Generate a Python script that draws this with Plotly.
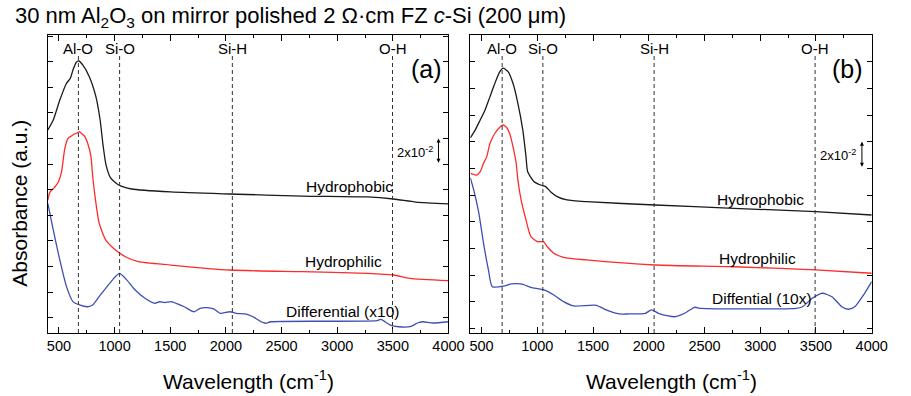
import plotly.graph_objects as go

# ---------------- data (absorbance x100, offset stacked) ----------------
# Panel (a)
a_hphob_w = [400, 449, 508, 568, 603, 626, 656, 679, 714, 773, 832, 870, 896, 923, 964, 1037, 1152, 1505, 2034, 2686, 3268, 3506, 3709, 4000]
a_hphob_v = [14.67, 15.45, 17.01, 18.32, 18.71, 19.36, 19.96, 20.06, 19.75, 18.83, 17.27, 15.45, 13.5, 11.94, 10.92, 10.37, 10.06, 9.83, 9.67, 9.51, 9.44, 9.28, 9.04, 8.89]

a_hphil_w = [400, 420, 464, 495, 523, 553, 582, 612, 641, 670, 685, 700, 729, 758, 788, 802, 832, 861, 920, 1008, 1097, 1214, 1505, 2034, 2686, 3268, 3506, 3653, 4000]
a_hphil_v = [9.20, 9.83, 10.22, 10.61, 11.39, 13.24, 14.02, 14.20, 14.36, 14.46, 14.54, 14.41, 14.20, 13.63, 12.58, 11.15, 8.97, 7.40, 6.08, 5.29, 4.77, 4.38, 4.12, 3.73, 3.60, 3.47, 3.34, 3.08, 2.90]

a_diff_w = [400, 449, 508, 568, 626, 685, 758, 802, 861, 920, 993, 1044, 1097, 1185, 1273, 1361, 1405, 1449, 1507, 1566, 1626, 1714, 1769, 1831, 1890, 1948, 2036, 2095, 2184, 2243, 2316, 2360, 2404, 3359, 3392, 3477, 3550, 3653, 3727, 3771, 3859, 4000]
a_diff_v = [8.94, 6.86, 4.51, 2.43, 1.26, 1.00, 0.86, 1.00, 1.65, 2.30, 3.08, 3.47, 3.08, 2.17, 1.52, 1.13, 1.25, 1.18, 1.26, 1.08, 0.86, 0.47, 0.74, 0.79, 0.69, 0.35, 0.47, 0.35, 0.29, 0.08, -0.31, -0.43, -0.31, -0.23, -0.12, -0.57, -0.70, -0.70, -0.39, -0.31, -0.41, -0.31]

# Panel (b)
b_hphob_w = [400, 444, 488, 532, 576, 620, 664, 694, 738, 782, 826, 870, 899, 914, 972, 1031, 1075, 1119, 1178, 1266, 1442, 2058, 2762, 3496, 4000]
b_hphob_v = [14.28, 14.88, 15.63, 16.38, 17.38, 18.38, 19.25, 19.51, 19.25, 18.38, 16.88, 14.88, 12.88, 11.75, 11.0, 10.75, 10.63, 10.25, 9.88, 9.63, 9.50, 9.25, 9.0, 8.75, 8.50]

b_hphil_w = [400, 459, 488, 518, 547, 576, 620, 664, 694, 723, 752, 782, 811, 826, 855, 899, 943, 1002, 1055, 1090, 1148, 1236, 1442, 2058, 2762, 3496, 4000]
b_hphil_v = [11.63, 11.50, 11.75, 12.38, 12.88, 13.88, 14.63, 15.08, 15.25, 15.08, 14.63, 13.63, 12.38, 11.13, 9.63, 8.13, 6.87, 6.50, 6.50, 6.12, 5.63, 5.33, 5.13, 4.75, 4.62, 4.38, 4.13]

b_diff_w = [400, 430, 474, 518, 562, 597, 708, 767, 855, 943, 1060, 1148, 1236, 1324, 1530, 1618, 1735, 1823, 1970, 2023, 2087, 2175, 2234, 2322, 2410, 2468, 3320, 3379, 3467, 3555, 3643, 3731, 3789, 3848, 3936, 4000]
b_diff_v = [11.28, 10.38, 8.73, 6.38, 4.38, 3.12, 3.18, 3.33, 3.33, 3.08, 2.88, 2.50, 2.00, 1.68, 1.73, 1.38, 1.08, 1.08, 1.13, 1.38, 1.13, 0.93, 0.87, 1.13, 1.58, 1.50, 1.50, 1.62, 2.25, 2.63, 2.37, 1.62, 1.43, 1.62, 2.63, 3.50]

band_names = ["Al-O", "Si-O", "Si-H", "O-H"]
a_bands = [675, 1045, 2058, 3497]
b_bands = [685, 1050, 2048, 3492]

x_ticks = [500, 1000, 1500, 2000, 2500, 3000, 3500, 4000]

# ---------------- figure ----------------
W, H = 911, 396
FONT = "Arial, Liberation Sans, sans-serif"
BLACK = "#1a1a1a"
RED = "#ff2a2a"
BLUE = "#3d4fb5"

fig = go.Figure()
for xa, ya, data in [("x", "y", [(a_hphob_w, a_hphob_v, BLACK), (a_hphil_w, a_hphil_v, RED), (a_diff_w, a_diff_v, BLUE)]),
                     ("x2", "y2", [(b_hphob_w, b_hphob_v, BLACK), (b_hphil_w, b_hphil_v, RED), (b_diff_w, b_diff_v, BLUE)])]:
    for wx, vy, col in data:
        fig.add_trace(go.Scatter(x=wx, y=vy, mode="lines", line=dict(color=col, width=1.3, shape="spline", smoothing=0.6),
                                 xaxis=xa, yaxis=ya, showlegend=False, hoverinfo="skip"))

def px_x(p):
    return p / W

def px_y(p):
    return 1 - p / H

xcommon = dict(range=[400, 4000], tickvals=x_ticks, ticks="inside", ticklen=6, tickcolor="black",
               showline=True, linecolor="black", linewidth=1, mirror="allticks", showgrid=False, zeroline=False,
               tickfont=dict(family=FONT, size=14.5, color="black"),
               minor=dict(dtick=250, tick0=0, ticks="inside", ticklen=3, tickcolor="black", showgrid=False))
ycommon = dict(dtick=2, tick0=0, ticks="inside", ticklen=5, tickcolor="black", showticklabels=False,
               showline=True, linecolor="black", linewidth=1, mirror="allticks", showgrid=False, zeroline=False)

ydom = [px_y(333), px_y(35)]
fig.update_layout(
    width=W, height=H, margin=dict(l=0, r=0, t=0, b=0),
    paper_bgcolor="white", plot_bgcolor="white",
    xaxis=dict(domain=[px_x(47.7), px_x(456)], **xcommon),
    xaxis2=dict(domain=[px_x(478.3), px_x(887.3)], anchor="y2", **xcommon),
    yaxis=dict(domain=ydom, range=[-1.19, 22.09], anchor="x", **ycommon),
    yaxis2=dict(domain=ydom, range=[-0.35, 22.0], anchor="x2", **ycommon),
)

shapes = []
annos = []
for xr, yr, bands in [("x", "y", a_bands), ("x2", "y2", b_bands)]:
    for name, b in zip(band_names, bands):
        shapes.append(dict(type="line", xref=xr, yref=yr + " domain", x0=b, x1=b, y0=0, y1=0.933,
                           line=dict(color="#333333", width=1, dash="4px,3px")))
        annos.append(dict(xref=xr, yref=yr + " domain", x=b, y=0.956, text=name, showarrow=False,
                          font=dict(family=FONT, size=15, color="black"), xanchor="center", yanchor="middle"))

# panel letters
annos.append(dict(xref="x", yref="y domain", x=3800, y=0.94, text="(a)", showarrow=False,
                  font=dict(family=FONT, size=25, color="black")))
annos.append(dict(xref="x2", yref="y2 domain", x=3786, y=0.94, text="(b)", showarrow=False,
                  font=dict(family=FONT, size=25, color="black")))

# curve labels
lab = [("x", "y", 3110, 10.24, "Hydrophobic"), ("x", "y", 3060, 4.38, "Hydrophilic"),
       ("x", "y", 3050, 0.47, "Differential (x10)"),
       ("x2", "y2", 3003, 9.63, "Hydrophobic"), ("x2", "y2", 2976, 5.25, "Hydrophilic"),
       ("x2", "y2", 3020, 2.25, "Diffential (10x)")]
for xr, yr, xx, yy, t in lab:
    annos.append(dict(xref=xr, yref=yr, x=xx, y=yy, text=t, showarrow=False,
                      font=dict(family=FONT, size=15.5, color="black")))

# scale bars
for xr, yr, tx, ty, ax in [("x", "y", 3700, 12.97, 3910), ("x2", "y2", 3698, 13.0, 3912)]:
    annos.append(dict(xref=xr, yref=yr, x=tx, y=ty, text="2x10<sup>-2</sup>", showarrow=False,
                      font=dict(family=FONT, size=13, color="black")))
    annos.append(dict(xref=xr, yref=yr, x=ax, y=14, axref=xr, ayref=yr, ax=ax, ay=12, text="",
                      showarrow=True, arrowhead=2, arrowside="end+start", arrowsize=0.8, arrowwidth=1,
                      arrowcolor="black"))

# title and axis titles
annos.append(dict(xref="paper", yref="paper", x=px_x(12), y=px_y(17), xanchor="left", yanchor="middle",
                  text="30 nm Al<sub>2</sub>O<sub>3</sub> on mirror polished 2 Ω·cm FZ <i>c</i>-Si (200 μm)",
                  showarrow=False, font=dict(family=FONT, size=22, color="black")))
for cx in [(47.7 + 456) / 2, (478.3 + 887.3) / 2]:
    annos.append(dict(xref="paper", yref="paper", x=px_x(cx), y=px_y(380), xanchor="center", yanchor="middle",
                      text="Wavelength (cm<sup>-1</sup>)", showarrow=False,
                      font=dict(family=FONT, size=21, color="black")))
annos.append(dict(xref="paper", yref="paper", x=px_x(18), y=px_y(203), xanchor="center", yanchor="middle",
                  text="Absorbance (a.u.)", textangle=-90, showarrow=False,
                  font=dict(family=FONT, size=21, color="black")))

fig.update_layout(shapes=shapes, annotations=annos)
fig.write_html("out.html")
